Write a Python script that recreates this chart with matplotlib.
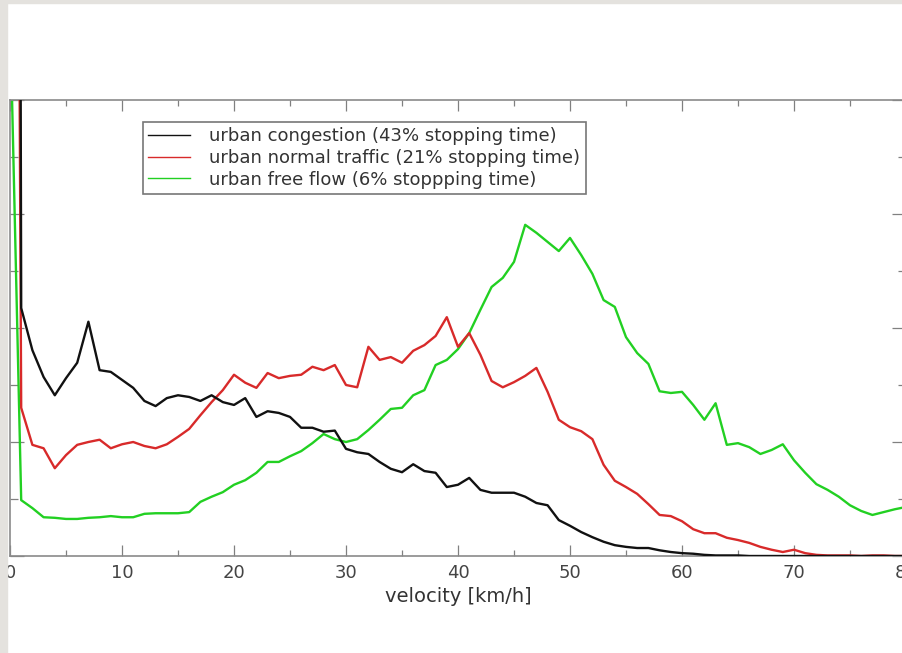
import numpy as np
import matplotlib
matplotlib.use("Agg")
import matplotlib.pyplot as plt
from matplotlib.patches import Rectangle
from matplotlib.ticker import MultipleLocator

# velocity bins in km/h
velocity = np.arange(0, 81)

# share of time per 1 km/h bin (%); bin 0 is off-scale
congestion = [
    86, 4.35, 3.61, 3.14, 2.82, 3.12, 3.39, 4.11, 3.26, 3.23, 3.09,
    2.95, 2.72, 2.63, 2.77, 2.82, 2.79, 2.72, 2.82, 2.70, 2.65,
    2.77, 2.44, 2.54, 2.51, 2.44, 2.25, 2.25, 2.18, 2.20, 1.88,
    1.82, 1.79, 1.65, 1.53, 1.47, 1.61, 1.49, 1.46, 1.21, 1.25,
    1.37, 1.16, 1.11, 1.11, 1.11, 1.04, 0.93, 0.89, 0.63, 0.53,
    0.42, 0.33, 0.25, 0.19, 0.16, 0.14, 0.14, 0.10, 0.07, 0.05,
    0.04, 0.02, 0.01, 0.01, 0.01, 0.0, 0.0, 0.0, 0.0, 0.0,
    0.0, 0.0, 0.0, 0.0, 0.0, 0.0, 0.0, 0.0, 0.0, 0.0,
]
normal = [
    42, 2.60, 1.95, 1.89, 1.54, 1.77, 1.95, 2.00, 2.04, 1.89, 1.96,
    2.00, 1.93, 1.89, 1.96, 2.09, 2.23, 2.47, 2.70, 2.91, 3.18,
    3.04, 2.95, 3.21, 3.12, 3.16, 3.18, 3.32, 3.26, 3.35, 3.00,
    2.96, 3.67, 3.44, 3.49, 3.39, 3.60, 3.70, 3.86, 4.19, 3.67,
    3.91, 3.53, 3.07, 2.96, 3.05, 3.16, 3.30, 2.88, 2.39, 2.26,
    2.19, 2.05, 1.60, 1.32, 1.21, 1.09, 0.91, 0.72, 0.70, 0.61,
    0.47, 0.40, 0.40, 0.32, 0.28, 0.23, 0.16, 0.11, 0.07, 0.11,
    0.05, 0.02, 0.01, 0.01, 0.01, 0.0, 0.01, 0.01, 0.0, 0.0,
]
free_flow = [
    9.6, 0.98, 0.84, 0.68, 0.67, 0.65, 0.65, 0.67, 0.68, 0.70, 0.68,
    0.68, 0.74, 0.75, 0.75, 0.75, 0.77, 0.95, 1.04, 1.12, 1.25,
    1.33, 1.46, 1.65, 1.65, 1.75, 1.84, 1.98, 2.14, 2.05, 2.00,
    2.05, 2.21, 2.39, 2.58, 2.60, 2.82, 2.91, 3.35, 3.44, 3.63,
    3.91, 4.32, 4.72, 4.88, 5.16, 5.81, 5.67, 5.51, 5.35, 5.58,
    5.28, 4.95, 4.49, 4.37, 3.84, 3.56, 3.37, 2.89, 2.86, 2.88,
    2.65, 2.39, 2.68, 1.95, 1.98, 1.91, 1.79, 1.86, 1.96, 1.68,
    1.46, 1.26, 1.16, 1.04, 0.89, 0.79, 0.72, 0.77, 0.82, 0.86,
]

labels = [
    "urban congestion (43% stopping time)",
    "urban normal traffic (21% stopping time)",
    "urban free flow (6% stoppping time)",
]
colors = ["#111111", "#d82a2a", "#22d022"]

fig = plt.figure(figsize=(9.02, 6.53), dpi=100)
fig.patch.set_facecolor("white")

# the axes run past the right edge of the picture, as in the cropped original
ax = fig.add_axes([10 / 902, 97 / 653, 896 / 902, 456 / 653])

series = [congestion, normal, free_flow]
for i, (vals, lab, col) in enumerate(zip(series, labels, colors)):
    ax.plot(velocity, vals, color=col, lw=1.7, label=lab, zorder=4 - i)

ax.set_xlim(0, 80)
ax.set_ylim(0, 8)
ax.xaxis.set_major_locator(MultipleLocator(10))
ax.xaxis.set_minor_locator(MultipleLocator(5))
ax.yaxis.set_major_locator(MultipleLocator(2))
ax.yaxis.set_minor_locator(MultipleLocator(1))

ax.tick_params(which="both", direction="in", top=True, right=True,
               color="#808080", width=0.9)
ax.tick_params(axis="x", which="major", length=8, pad=6,
               labelsize=13, labelcolor="#444444")
ax.tick_params(axis="x", which="minor", length=4.3)
ax.tick_params(axis="y", which="major", length=10, labelleft=False)
ax.tick_params(axis="y", which="minor", length=5.5)
for sp in ax.spines.values():
    sp.set_color("#8a8a8a")
    sp.set_linewidth(1.2)

ax.set_xlabel("velocity [km/h]", fontsize=14, color="#333333", labelpad=3)

leg = ax.legend(loc="upper left", bbox_to_anchor=(0.148, 0.952),
                borderaxespad=0, fancybox=False, framealpha=1,
                edgecolor="#777777", fontsize=13, labelcolor="#333333",
                handlelength=2.3, handletextpad=1.1, labelspacing=0.2,
                borderpad=0.3)
leg.get_frame().set_linewidth(1.2)
for h in leg.get_lines():
    h.set_linewidth(1.0)

# grey page border on the left and top of the screenshot
fig.add_artist(Rectangle((0, 0), 7 / 902, 1, transform=fig.transFigure,
                         color="#e4e2de", zorder=10))
fig.add_artist(Rectangle((0, 1 - 3 / 653), 1, 3 / 653, transform=fig.transFigure,
                         color="#e4e2de", zorder=10))

fig.savefig("out.png", dpi=100)
